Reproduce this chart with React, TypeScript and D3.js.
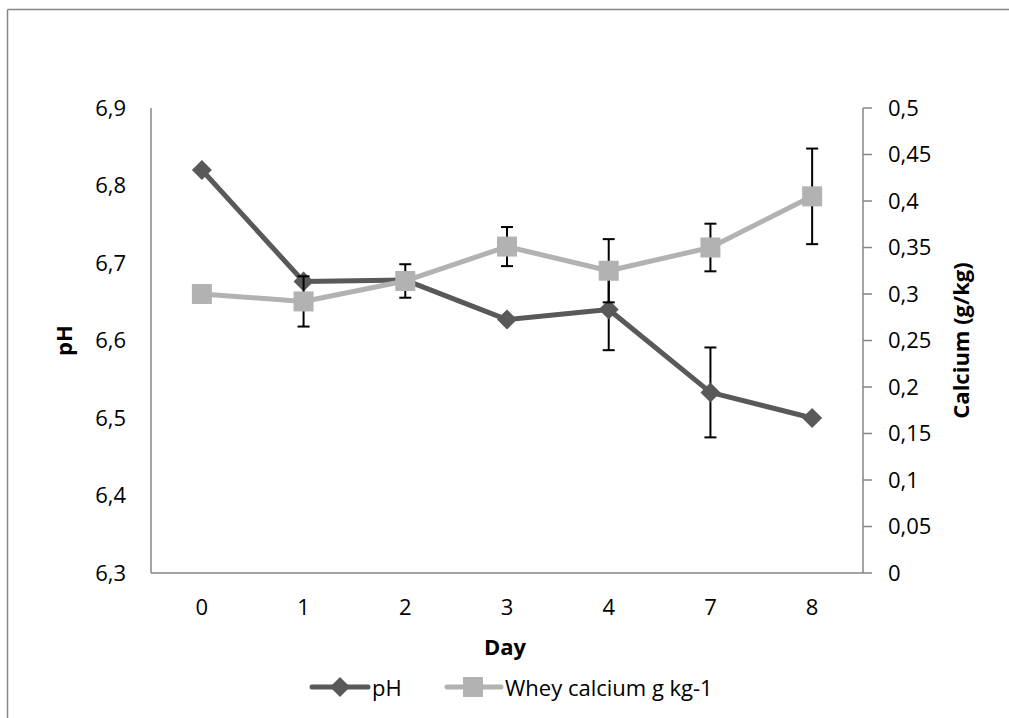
import React from "react";
import * as d3 from "d3";

const days = ["0", "1", "2", "3", "4", "7", "8"];
const phValues = [6.82, 6.676, 6.678, 6.627, 6.64, 6.533, 6.5];
const phErrors = [0, 0, 0, 0, 0.0525, 0.058, 0];
const caValues = [0.3, 0.292, 0.314, 0.351, 0.325, 0.35, 0.405];
const caErrors = [0, 0.027, 0.018, 0.021, 0.034, 0.0256, 0.0514];
const phTicks = [6.3, 6.4, 6.5, 6.6, 6.7, 6.8, 6.9];
const caTicks = [0, 0.05, 0.1, 0.15, 0.2, 0.25, 0.3, 0.35, 0.4, 0.45, 0.5];

const W = 1009;
const H = 718;
const left = 151;
const right = 863;
const top = 108;
const bottom = 573;
const FONT = "'Open Sans', 'Liberation Sans', sans-serif";
const FS = 22;
const PH_COLOR = "#595959";
const CA_COLOR = "#b2b2b2";
const AXIS = "#868686";

const fmt = (v: number) => String(+v.toFixed(2)).replace(".", ",");

export default function App() {
  const x = d3.scaleBand<string>().domain(days).range([left, right]);
  const xc = (d: string) => (x(d) as number) + x.bandwidth() / 2;
  const yL = d3.scaleLinear().domain([6.3, 6.9]).range([bottom, top]);
  const yR = d3.scaleLinear().domain([0, 0.5]).range([bottom, top]);

  const phLine = d3
    .line<number>()
    .x((_, i) => xc(days[i]))
    .y((v) => yL(v));
  const caLine = d3
    .line<number>()
    .x((_, i) => xc(days[i]))
    .y((v) => yR(v));

  const errBars = (vals: number[], errs: number[], y: d3.ScaleLinear<number, number>, key: string) =>
    vals.map((v, i) => {
      const e = errs[i];
      if (!e) return null;
      const cx = xc(days[i]);
      const y1 = y(v + e);
      const y2 = y(v - e);
      return (
        <g key={key + i} stroke="#000" strokeWidth={2}>
          <line x1={cx} x2={cx} y1={y1} y2={y2} />
          <line x1={cx - 6} x2={cx + 6} y1={y1} y2={y1} />
          <line x1={cx - 6} x2={cx + 6} y1={y2} y2={y2} />
        </g>
      );
    });

  const diamond = (cx: number, cy: number, r: number) =>
    `M${cx},${cy - r}L${cx + r},${cy}L${cx},${cy + r}L${cx - r},${cy}Z`;

  return (
    <div style={{ position: "fixed", left: 0, top: 0, width: W, height: H, overflow: "hidden", background: "#fff" }}>
      <svg width={W} height={H} style={{ display: "block" }} fontFamily={FONT}>
        <rect x={0} y={0} width={W} height={H} fill="#fff" />
        {/* outer chart frame (only top and left edges fall inside the picture) */}
        <line x1={7.5} x2={W} y1={9.5} y2={9.5} stroke={AXIS} strokeWidth={1.5} />
        <line x1={7.5} x2={7.5} y1={9.5} y2={H} stroke={AXIS} strokeWidth={1.5} />

        {/* axes */}
        <line x1={left} x2={left} y1={top} y2={bottom} stroke={AXIS} strokeWidth={1.5} />
        <line x1={left} x2={right} y1={bottom} y2={bottom} stroke={AXIS} strokeWidth={1.5} />
        <line x1={right} x2={right} y1={top} y2={bottom} stroke={AXIS} strokeWidth={1.5} />
        {caTicks.map((t) => (
          <line key={"rt" + t} x1={right} x2={right + 9} y1={yR(t)} y2={yR(t)} stroke={AXIS} strokeWidth={1.5} />
        ))}

        {/* left tick labels */}
        {phTicks.map((t) => (
          <text key={"lt" + t} x={126} y={yL(t)} dy="0.36em" textAnchor="end" fontSize={FS} fill="#000">
            {fmt(t)}
          </text>
        ))}
        {/* right tick labels */}
        {caTicks.map((t) => (
          <text key={"rl" + t} x={888} y={yR(t)} dy="0.36em" textAnchor="start" fontSize={FS} fill="#000">
            {fmt(t)}
          </text>
        ))}
        {/* x tick labels */}
        {days.map((d) => (
          <text key={"xl" + d} x={xc(d)} y={615} textAnchor="middle" fontSize={FS} fill="#000">
            {d}
          </text>
        ))}

        {/* axis titles */}
        <text x={505} y={655} textAnchor="middle" fontSize={FS} fontWeight="bold" fill="#000">
          Day
        </text>
        <text
          transform={`translate(72,${(top + bottom) / 2}) rotate(-90)`}
          textAnchor="middle"
          fontSize={FS}
          fontWeight="bold"
          fill="#000"
        >
          pH
        </text>
        <text
          transform={`translate(969,${(top + bottom) / 2}) rotate(-90)`}
          textAnchor="middle"
          fontSize={FS}
          fontWeight="bold"
          fill="#000"
        >
          Calcium (g/kg)
        </text>

        {/* pH series */}
        {errBars(phValues, phErrors, yL, "pe")}
        <path d={phLine(phValues) || ""} fill="none" stroke={PH_COLOR} strokeWidth={5} strokeLinejoin="round" />
        {phValues.map((v, i) => (
          <path key={"pm" + i} d={diamond(xc(days[i]), yL(v), 10)} fill={PH_COLOR} />
        ))}

        {/* Calcium series */}
        {errBars(caValues, caErrors, yR, "ce")}
        <path d={caLine(caValues) || ""} fill="none" stroke={CA_COLOR} strokeWidth={5} strokeLinejoin="round" />
        {caValues.map((v, i) => (
          <rect key={"cm" + i} x={xc(days[i]) - 10} y={yR(v) - 10} width={20} height={20} fill={CA_COLOR} />
        ))}

        {/* legend */}
        <line x1={312} x2={368} y1={687} y2={687} stroke={PH_COLOR} strokeWidth={5} strokeLinecap="round" />
        <path d={diamond(340, 687, 10)} fill={PH_COLOR} />
        <text x={372} y={696} fontSize={FS} fill="#000">
          pH
        </text>
        <line x1={447} x2={501} y1={687} y2={687} stroke={CA_COLOR} strokeWidth={5} strokeLinecap="round" />
        <rect x={463} y={677} width={20} height={20} fill={CA_COLOR} />
        <text x={505} y={696} fontSize={FS} fill="#000">
          Whey calcium g kg-1
        </text>
      </svg>
    </div>
  );
}
